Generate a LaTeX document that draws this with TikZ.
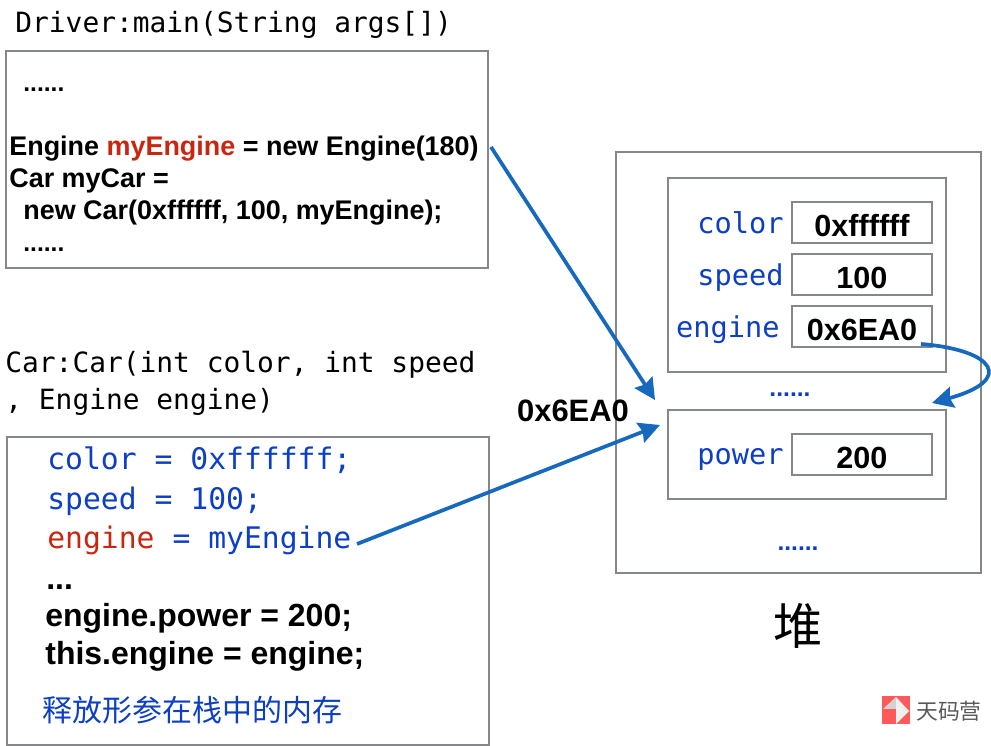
\documentclass[tikz,border=0pt]{standalone}
\usepackage{fontspec}
\setmainfont{Liberation Sans}
\setmonofont{DejaVu Sans Mono}
\newfontfamily\cjk{Noto Sans CJK SC}
\usetikzlibrary{arrows.meta, positioning}
\definecolor{boxgray}{HTML}{85888B}
\definecolor{codeblue}{HTML}{0D3FC4}
\definecolor{codered}{HTML}{C8260F}
\definecolor{arrowblue}{HTML}{1769BD}
\tikzset{
  box/.style={draw=boxgray, line width=1.1pt, inner sep=0pt},
  valbox/.style={box, minimum width=2.80cm, minimum height=0.82cm, text height=16pt, text depth=0pt, font=\fontsize{17.4}{17}\selectfont\bfseries},
  code/.style={anchor=base west, inner sep=0pt, font=\fontsize{15.33}{15}\selectfont\bfseries},
  bigcode/.style={code, font=\fontsize{18.2}{18}\selectfont\bfseries},
  dots/.style={code, anchor=base, text=codeblue, font=\fontsize{14}{14}\selectfont\bfseries},
  mono/.style={anchor=base west, inner sep=0pt, text=codeblue, font=\fontsize{16.9}{17}\selectfont\ttfamily},
  title/.style={anchor=base west, inner sep=0pt, font=\fontsize{15.87}{16}\selectfont\ttfamily},
  field/.style={inner sep=0pt, text=codeblue, font=\fontsize{16.3}{16}\selectfont\ttfamily},
  link/.style={-{Stealth[length=12pt,width=12pt,inset=1.5pt]}, arrowblue, line width=2.1pt},
}
\begin{document}
\begin{tikzpicture}
\useasboundingbox (0,0) rectangle (19.82,14.92);

% Driver frame
\node[title] (drivertitle) at (0.30,14.26) {Driver:main(String args[])};
\node[box, minimum width=9.64cm, minimum height=4.34cm] (driverbox) at (4.94,11.73) {};
\node[code, font=\fontsize{14}{14}\selectfont\bfseries] (dotsa) at (0.46,13.08) {......};
\node[code] (engineline) at (0.18,11.80) {Engine \textcolor{codered}{myEngine} = new Engine(180)};
\node[code] (carline) at (0.18,11.16) {Car myCar =};
\node[code] (newline) at (0.46,10.52) {new Car(0xffffff, 100, myEngine);};
\node[code, font=\fontsize{14}{14}\selectfont\bfseries] (dotsb) at (0.46,9.88) {......};

% Car frame
\node[title] (cartitlea) at (0.10,7.46) {Car:Car(int color, int speed};
\node[title] (cartitleb) at (0.10,6.72) {, Engine engine)};
\node[box, minimum width=9.64cm, minimum height=6.16cm] (carbox) at (4.96,3.10) {};
\node[mono] (colorline) at (0.94,5.52) {color = 0xffffff;};
\node[mono] (speedline) at (0.94,4.72) {speed = 100;};
\node[mono] (assignline) at (0.94,3.94) {\textcolor{codered}{engine} = myEngine};
\node[bigcode] (dotsc) at (0.92,3.12) {...};
\node[bigcode] (powerline) at (0.90,2.38) {engine.power = 200;};
\node[bigcode] (thisline) at (0.90,1.62) {this.engine = engine;};
\node[anchor=base west, inner sep=0pt, text=codeblue, font=\fontsize{17.05}{17}\selectfont\cjk] (freeline) at (0.84,0.48) {释放形参在栈中的内存};

% Heap
\node[box, minimum width=7.30cm, minimum height=8.42cm] (heapbox) at (15.97,7.67) {};
\node[box, minimum width=5.56cm, minimum height=3.88cm] (carobj) at (16.14,9.42) {};
\node[box, minimum width=5.56cm, minimum height=1.78cm] (engineobj) at (16.14,5.83) {};
\node[valbox] (colorval) at (17.24,10.47) {0xffffff};
\node[valbox] (speedval) at (17.24,9.43) {100};
\node[valbox] (engineval) at (17.24,8.39) {0x6EA0};
\node[valbox] (powerval) at (17.24,5.83) {200};
\node[field, left=0.14cm of colorval] (colorname) {color};
\node[field, left=0.14cm of speedval, yshift=-0.06cm] (speedname) {speed};
\node[field, left=0.22cm of engineval, yshift=-0.06cm] (enginename) {engine};
\node[field, left=0.14cm of powerval, yshift=-0.10cm] (powername) {power};
\node[dots] (dotsd) at (15.80,6.98) {......};
\node[dots] (dotse) at (15.96,3.90) {......};
\node[font=\fontsize{28}{28}\selectfont\cjk, inner sep=0pt] (heapname) at (15.96,2.40) {堆};
\node[font=\fontsize{17.6}{18}\selectfont\bfseries, inner sep=0pt] (addrlabel) at (11.46,6.70) {0x6EA0};

% Arrows
\coordinate (linkastart) at (9.82,11.98);
\coordinate (linkaend) at (13.10,6.92);
\coordinate (linkbstart) at (7.14,4.04);
\coordinate (linkbend) at (13.20,6.42);
\coordinate (linkcstart) at (18.42,8.04);
\coordinate (linkcend) at (18.64,6.86);
\draw[link] (linkastart) -- (linkaend);
\draw[link] (linkbstart) -- (linkbend);
\draw[link] (linkcstart) .. controls (19.9,7.92) and (20.3,7.32) .. (linkcend);

% Logo
\fill[red!65!white] (17.64,0.44) rectangle (18.20,1.00);
\fill[gray!35] (17.66,0.74) -- (17.92,0.98) -- (17.92,0.74) -- cycle;
\fill[gray!12] (17.92,0.98) -- (18.18,0.70) -- (17.92,0.44) -- cycle;
\node[anchor=west, inner sep=0pt, text=black!65, font=\fontsize{12.4}{13}\selectfont\cjk] (logotext) at (18.32,0.70) {天码营};
\end{tikzpicture}
\end{document}
